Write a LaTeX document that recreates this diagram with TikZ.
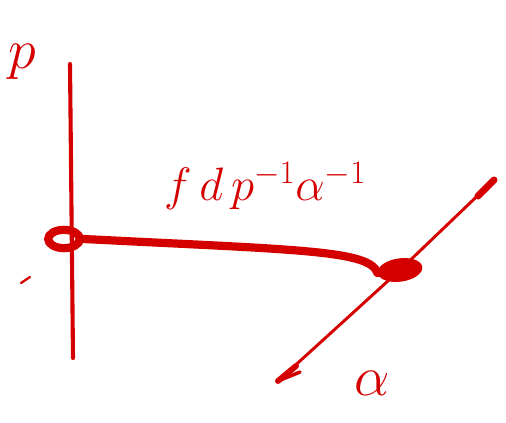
\RequirePackage{fix-cm}
\documentclass[tikz,border=0pt]{standalone}
\usepackage{tikz}
\usetikzlibrary{shapes.geometric}
\definecolor{inkred}{RGB}{212,0,0}

\begin{document}
\begin{tikzpicture}[
    x=0.03cm, y=-0.03cm,
    axis/.style={
        draw=inkred,
        line width=3.5pt,
        line cap=round
    },
    bond/.style={
        draw=inkred,
        line width=7pt,
        line cap=round
    },
    ring/.style={
        ellipse,
        draw=inkred,
        line width=7pt,
        minimum width=0.95cm,
        minimum height=0.55cm,
        inner sep=0pt
    },
    blob/.style={
        ellipse,
        fill=inkred,
        minimum width=1.35cm,
        minimum height=0.7cm,
        inner sep=0pt
    },
    lbl/.style={
        text=inkred,
        font=\fontsize{40}{44}\selectfont
    },
]
\useasboundingbox (0,0) rectangle (506,423);

% === p axis (vertical) ===
\coordinate (pTop) at (70,64);
\coordinate (pBot) at (73,358);
\draw[axis] (pTop) -- (pBot);
\node[lbl, font=\fontsize{48}{50}\selectfont] (pLabel) at (22,62) {$p$};

% === alpha axis (slanted) ===
\coordinate (aTop) at (494,180);
\coordinate (aBot) at (278,381);
\node[blob, rotate=8] (jq) at (400,270) {};
\draw[axis, line width=2.5pt] (aTop) -- (jq.center) -- (aBot);
\draw[axis, line width=6pt] (aTop) -- (478,196);
\draw[axis, line width=5pt] (aBot) -- (296,366);
\draw[axis, line width=3pt] (aBot) -- (300,372);
\node[lbl, font=\fontsize{48}{50}\selectfont] (aLabel) at (372,383) {$\alpha$};

% === junction on p axis ===
\node[ring] (jp) at (64,239) {};

% === bond between the two ===
\draw[bond] (jp.east) .. controls (300,250) and (370,250) .. (jq.west);
\node[lbl] (fLabel) at (265,186) {$f\,d\,p^{-1}\alpha^{-1}$};

% small tick
\draw[axis, line width=2pt] (21,283) -- (30,277);

\end{tikzpicture}
\end{document}
